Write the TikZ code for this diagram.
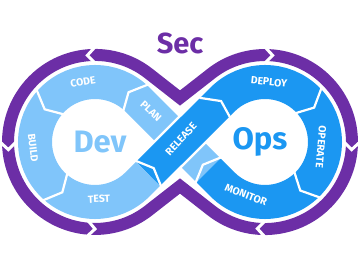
\documentclass[tikz,border=0pt]{standalone}
\usepackage{fontspec}
\setmainfont{Fira Sans}
\usetikzlibrary{calc}
\definecolor{purp}{HTML}{6C2EA6}
\definecolor{lblue}{HTML}{80C5FA}
\definecolor{dblue}{HTML}{1B97F2}
\begin{document}
\begin{tikzpicture}[x=1pt,y=1pt,
  purpband/.style={draw=purp,line width=12pt,line join=miter},
  lband/.style={draw=lblue,line width=34pt},
  dband/.style={draw=dblue,line width=34pt},
  wborder/.style={draw=white,line width=39pt},
  cut/.style={draw=white,line width=2.2pt,line join=miter},
  pcut/.style={draw=white,line width=3pt,line join=miter},
  lab/.style={text=white,font=\bfseries\fontsize{10.4}{12}\selectfont,inner sep=0pt},
  big/.style={font=\bfseries\fontsize{31}{37}\selectfont,inner sep=0pt,anchor=base}]
\useasboundingbox (0,0) rectangle (360,270);
\coordinate (L) at (95,128);
\coordinate (R) at (265,128);
\coordinate (C) at (180,128);
\coordinate (P1) at ($(L)+(45:60)$);
\coordinate (P2) at ($(L)+(-45:60)$);
\coordinate (P3) at ($(R)+(135:60)$);
\coordinate (P4) at ($(R)+(-135:60)$);
\coordinate (A) at ($(P4)!0.33!(C)$);
\coordinate (B) at ($(P2)!0.25!(C)$);
% purple outline
\draw[purpband] (180,172) -- (148.6,196.6) arc[start angle=52,end angle=308,radius=87]
  -- (180,84) -- (211.4,59.4) arc[start angle=232,end angle=488,radius=87] -- cycle;
% purple notches
\draw[pcut] ($(L)+(90:79)$) -- ($(L)+(95:87)$) -- ($(L)+(90:95)$);
\draw[pcut] ($(L)+(180:79)$) -- ($(L)+(185:87)$) -- ($(L)+(180:95)$);
\draw[pcut] ($(L)+(265:79)$) -- ($(L)+(270:87)$) -- ($(L)+(265:95)$);
\draw[pcut] ($(R)+(90:79)$) -- ($(R)+(85:87)$) -- ($(R)+(90:95)$);
\draw[pcut] ($(R)+(0:79)$) -- ($(R)+(-5:87)$) -- ($(R)+(0:95)$);
\draw[pcut] ($(R)+(270:79)$) -- ($(R)+(265:87)$) -- ($(R)+(270:95)$);
% light band
\draw[lband] (A) -- (C) -- (P1) arc[start angle=45,end angle=315,radius=60] -- (B);
% dark band
\draw[wborder] (B) -- (P3);
\draw[dband] (B) -- (P3) arc[start angle=135,end angle=-135,radius=60] -- (A);
% segment cuts
\draw[cut] ($(L)+(47:41)$) -- ($(L)+(56:60)$) -- ($(L)+(47:79)$);
\draw[cut] ($(L)+(138:41)$) -- ($(L)+(147:60)$) -- ($(L)+(138:79)$);
\draw[cut] ($(L)+(228:41)$) -- ($(L)+(237:60)$) -- ($(L)+(228:79)$);
\draw[cut] ($(B)+(135:19)$) -- ($(B)+(45:8)$) -- ($(B)+(-45:19)$);
\draw[cut] ($(R)+(146:41)$) -- ($(R)+(137:60)$) -- ($(R)+(146:79)$);
\draw[cut] ($(R)+(44:41)$) -- ($(R)+(35:60)$) -- ($(R)+(44:79)$);
\draw[cut] ($(R)+(-45:41)$) -- ($(R)+(-54:60)$) -- ($(R)+(-45:79)$);
\draw[cut] ($(A)+(45:19)$) -- ($(A)+(135:8)$) -- ($(A)+(225:19)$);
% labels
\node[lab,rotate=10] (code) at (83,188) {CODE};
\node[lab,rotate=-83] (build) at (33,122) {BUILD};
\node[lab,rotate=3] (test) at (99,71) {TEST};
\node[lab,rotate=-43] (plan) at (151,159) {PLAN};
\node[lab,rotate=47] (release) at (181,131) {RELEASE};
\node[lab,rotate=-6] (deploy) at (269,188) {DEPLOY};
\node[lab,rotate=-95] (operate) at (321,123) {OPERATE};
\node[lab,rotate=-21] (monitor) at (246,75) {MONITOR};
\node[big,text=lblue] (dev) at (100,117) {Dev};
\node[big,text=dblue] (ops) at (260,120) {Ops};
\node[big,text=purp,font=\bfseries\fontsize{29}{35}\selectfont] (sec) at (180,216) {Sec};
\end{tikzpicture}
\end{document}
